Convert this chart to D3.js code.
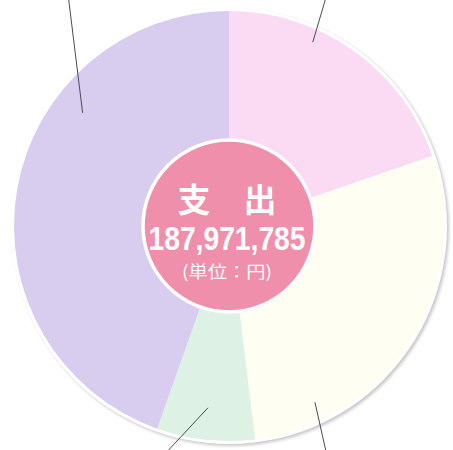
<!DOCTYPE html>
<html>
<head>
<meta charset="utf-8">
<script src="https://cdn.jsdelivr.net/npm/d3@7"></script>
<style>
  html, body { margin: 0; padding: 0; background: #fff; }
  #chart-container { width: 453px; height: 450px; overflow: hidden; }
</style>
</head>
<body>
<div id="chart-container"></div>
<script>
// slice data (clockwise from 12 o'clock)
const categories = ["区分A", "区分B", "区分C", "区分D"];
const values = [37070000, 53260000, 13840000, 83800000];
const colors = ["#fbdaf3", "#fefef2", "#ddf2e5", "#d8cdef"];

const totalLabel = "187,971,785";
const titleLabel = "支　出";
const unitLabel = "(単位：円)";

// leader lines: anchor inside the slice (angle in degrees, radius in px) and far end
const leaders = [
    { angle: 24.5, r: 202, end: [327, -6] },
    { angle: 154, r: 196, end: [327, 456] },
    { angle: 186.6, r: 183, end: [163, 456] },
    { angle: 307.7, r: 185, end: [68, -6] }
];

function createDonut(width, height) {
    const cx = 229, cy = 226;
    const outerR = 215;
    const innerR = 86;

    d3.select("#chart-container").select("svg").remove();

    const svg = d3.select("#chart-container")
        .append("svg")
        .attr("width", width)
        .attr("height", height);

    const defs = svg.append("defs");
    defs.append("filter")
        .attr("id", "soft")
        .attr("x", "-10%").attr("y", "-10%")
        .attr("width", "120%").attr("height", "120%")
        .append("feGaussianBlur")
        .attr("stdDeviation", 1.5);

    const g = svg.append("g")
        .attr("transform", `translate(${cx},${cy})`);

    // faint shadow and white rim around the pie
    g.append("circle")
        .attr("cx", 2).attr("cy", 2)
        .attr("r", outerR + 3)
        .attr("fill", "#c9c9cc")
        .attr("filter", "url(#soft)");
    g.append("circle")
        .attr("r", outerR + 3)
        .attr("fill", "#ffffff");

    const data = categories.map((c, i) => ({ name: c, value: values[i], color: colors[i] }));

    const pie = d3.pie()
        .value(d => d.value)
        .sort(null);

    const arc = d3.arc()
        .innerRadius(0)
        .outerRadius(outerR);

    g.selectAll(".slice")
        .data(pie(data))
        .enter()
        .append("path")
        .attr("class", "slice")
        .attr("d", arc)
        .attr("fill", d => d.data.color);

    // centre disc
    g.append("circle")
        .attr("r", innerR)
        .attr("fill", "#ef8fac")
        .attr("stroke", "#ffffff")
        .attr("stroke-width", 3.5);

    // leader lines
    g.selectAll(".leader")
        .data(leaders)
        .enter()
        .append("line")
        .attr("class", "leader")
        .attr("x1", d => d3.pointRadial(d.angle * Math.PI / 180, d.r)[0])
        .attr("y1", d => d3.pointRadial(d.angle * Math.PI / 180, d.r)[1])
        .attr("x2", d => d.end[0] - cx)
        .attr("y2", d => d.end[1] - cy)
        .attr("stroke", "#4a4a55")
        .attr("stroke-width", 1);

    // centre labels
    g.append("text")
        .attr("x", -2)
        .attr("y", -14)
        .attr("text-anchor", "middle")
        .attr("fill", "#ffffff")
        .style("font-family", "'Noto Sans CJK JP', sans-serif")
        .style("font-weight", "bold")
        .style("font-size", "33px")
        .text(titleLabel);

    g.append("text")
        .attr("x", -2)
        .attr("y", 24)
        .attr("text-anchor", "middle")
        .attr("fill", "#ffffff")
        .attr("textLength", 157)
        .attr("lengthAdjust", "spacingAndGlyphs")
        .style("font-family", "'Liberation Sans Narrow', 'Liberation Sans', Arial, sans-serif")
        .style("font-weight", "bold")
        .style("font-size", "34px")
        .text(totalLabel);

    g.append("text")
        .attr("x", -2)
        .attr("y", 52)
        .attr("text-anchor", "middle")
        .attr("fill", "#ffffff")
        .attr("textLength", 90)
        .attr("lengthAdjust", "spacingAndGlyphs")
        .style("font-family", "'Noto Sans CJK JP', sans-serif")
        .style("font-size", "17px")
        .text(unitLabel);
}

createDonut(453, 450);
</script>
</body>
</html>
